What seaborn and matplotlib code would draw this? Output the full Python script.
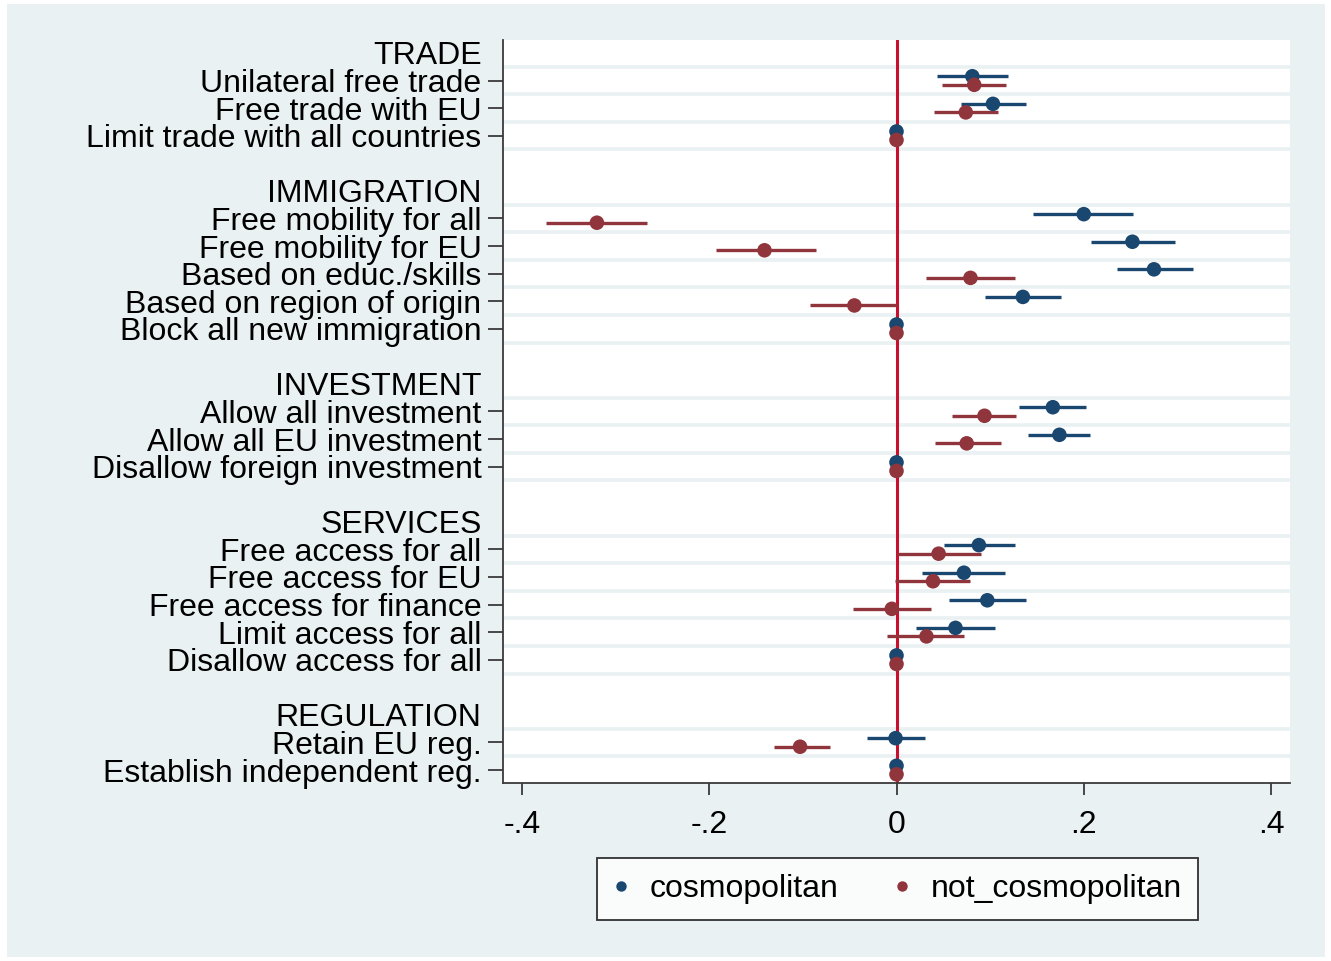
import numpy as np
import pandas as pd
import matplotlib
matplotlib.use("Agg")
import matplotlib.pyplot as plt
from matplotlib.patches import Rectangle
from matplotlib.lines import Line2D
import seaborn as sns

# ---- data -------------------------------------------------------------
groups = ["TRADE", "IMMIGRATION", "INVESTMENT", "SERVICES", "REGULATION"]
group_items = [
    ["Unilateral free trade", "Free trade with EU", "Limit trade with all countries"],
    ["Free mobility for all", "Free mobility for EU", "Based on educ./skills",
     "Based on region of origin", "Block all new immigration"],
    ["Allow all investment", "Allow all EU investment", "Disallow foreign investment"],
    ["Free access for all", "Free access for EU", "Free access for finance",
     "Limit access for all", "Disallow access for all"],
    ["Retain EU reg.", "Establish independent reg."],
]

nan = np.nan
cosmo_est = [0.081, 0.103, 0.0,
             0.200, 0.252, 0.275, 0.135, 0.0,
             0.167, 0.174, 0.0,
             0.088, 0.072, 0.097, 0.063, 0.0,
             -0.001, 0.0]
cosmo_lo = [0.043, 0.069, nan,
            0.146, 0.208, 0.235, 0.095, nan,
            0.131, 0.140, nan,
            0.051, 0.027, 0.056, 0.021, nan,
            -0.032, nan]
cosmo_hi = [0.119, 0.138, nan,
            0.253, 0.297, 0.317, 0.176, nan,
            0.202, 0.207, nan,
            0.127, 0.116, 0.138, 0.105, nan,
            0.030, nan]

notc_est = [0.083, 0.074, 0.0,
            -0.320, -0.141, 0.079, -0.045, 0.0,
            0.094, 0.075, 0.0,
            0.045, 0.039, -0.005, 0.032, 0.0,
            -0.103, 0.0]
notc_lo = [0.049, 0.040, nan,
           -0.374, -0.193, 0.032, -0.092, nan,
           0.059, 0.041, nan,
           0.001, -0.002, -0.046, -0.010, nan,
           -0.131, nan]
notc_hi = [0.117, 0.108, nan,
           -0.267, -0.086, 0.127, 0.000, nan,
           0.128, 0.112, nan,
           0.090, 0.079, 0.037, 0.072, nan,
           -0.071, nan]

series_names = ["cosmopolitan", "not_cosmopolitan"]
xticks = [-0.4, -0.2, 0.0, 0.2, 0.4]
xtick_labels = ["-.4", "-.2", "0", ".2", ".4"]

# ---- styling ----------------------------------------------------------
BG = "#E9F1F3"
GRID = "#E9F1F3"
BLUE = "#1A476F"
RED = "#90353B"
ZERO = "#C8102E"
AXC = "#3A3A3A"
FS = 23
YTICK_LEN = 11
YTICK_PAD = 4.5

sns.set_style("white")
plt.rcParams["font.family"] = ["Liberation Sans", "DejaVu Sans"]
plt.rcParams["text.color"] = "black"
plt.rcParams["xtick.labelcolor"] = "black"
plt.rcParams["ytick.labelcolor"] = "black"

# ---- row layout: header, items, blank spacer between groups -----------
header_rows, item_rows = [], []
r = 0
for gi, (g, its) in enumerate(zip(groups, group_items)):
    header_rows.append(r); r += 1
    for it in its:
        item_rows.append(r); r += 1
    if gi < len(groups) - 1:
        r += 1
n_rows = r

items_flat = [it for its in group_items for it in its]
off = 0.155
df = pd.concat([
    pd.DataFrame({"item": items_flat, "row": np.array(item_rows) - off,
                  "est": cosmo_est, "lo": cosmo_lo, "hi": cosmo_hi,
                  "series": series_names[0]}),
    pd.DataFrame({"item": items_flat, "row": np.array(item_rows) + off,
                  "est": notc_est, "lo": notc_lo, "hi": notc_hi,
                  "series": series_names[1]}),
], ignore_index=True)
palette = {series_names[0]: BLUE, series_names[1]: RED}

# ---- figure -----------------------------------------------------------
W, H = 1331, 961
fig = plt.figure(figsize=(W / 100, H / 100), dpi=100)
fig.patch.set_facecolor("white")
fig.add_artist(Rectangle((7 / W, 4 / H), (1325 - 7) / W, (957 - 4) / H,
                         transform=fig.transFigure, facecolor=BG,
                         edgecolor="none", zorder=-10))

ax = fig.add_axes([503 / W, 1 - 783 / H, (1290 - 503) / W, (783 - 40) / H])
ax.set_facecolor("white")

# grid lines bordering each coefficient row
grid_y = sorted(set([y - 0.5 for y in item_rows] + [y + 0.5 for y in item_rows]))
for gy in grid_y:
    ax.axhline(gy, color=GRID, lw=2.6, zorder=0)

ax.axvline(0, color=ZERO, lw=2.2, zorder=2)

for s in series_names:
    sub = df[(df.series == s) & df.lo.notna()]
    ax.hlines(sub.row, sub.lo, sub.hi, colors=palette[s], lw=2.4, zorder=3)

sns.scatterplot(data=df, x="est", y="row", hue="series", palette=palette,
                s=110, marker="o", edgecolor="none", legend=False,
                ax=ax, zorder=4)

ax.set_xlim(-0.4203, 0.4203)
ax.set_ylim(n_rows - 1 + 0.47, -0.47)
ax.set_xticks(xticks)
ax.set_xticklabels(xtick_labels, fontsize=FS)

# item labels carry tick marks; group headers are unticked minor labels
ax.set_yticks(item_rows)
ax.set_yticklabels(items_flat, fontsize=FS)
ax.set_yticks(header_rows, minor=True)
ax.set_yticklabels(groups, minor=True, fontsize=FS)
ax.tick_params(axis="y", which="major", length=YTICK_LEN, width=1.3,
               color=AXC, pad=YTICK_PAD, left=True)
ax.tick_params(axis="y", which="minor", length=0,
               pad=YTICK_PAD + YTICK_LEN, left=True)
ax.tick_params(axis="x", length=8.5, width=1.3, color=AXC, pad=11, bottom=True)
ax.set_xlabel("")
ax.set_ylabel("")
for side in ["top", "right"]:
    ax.spines[side].set_visible(False)
for side in ["left", "bottom"]:
    ax.spines[side].set_color(AXC)
    ax.spines[side].set_linewidth(1.3)

handles = [Line2D([], [], ls="none", marker="o", ms=7.5, color=palette[s],
                  markeredgewidth=0) for s in series_names]
leg = fig.legend(handles, series_names, loc="center",
                 bbox_to_anchor=(897.5 / W, 1 - 889 / H), ncol=2,
                 fontsize=FS, frameon=True, fancybox=False,
                 handlelength=0.5, handletextpad=0.65, columnspacing=1.75,
                 borderpad=0.5, borderaxespad=0)
leg.get_frame().set_edgecolor("black")
leg.get_frame().set_linewidth(1.3)
leg.get_frame().set_facecolor("white")

fig.savefig("out.png", dpi=100)
